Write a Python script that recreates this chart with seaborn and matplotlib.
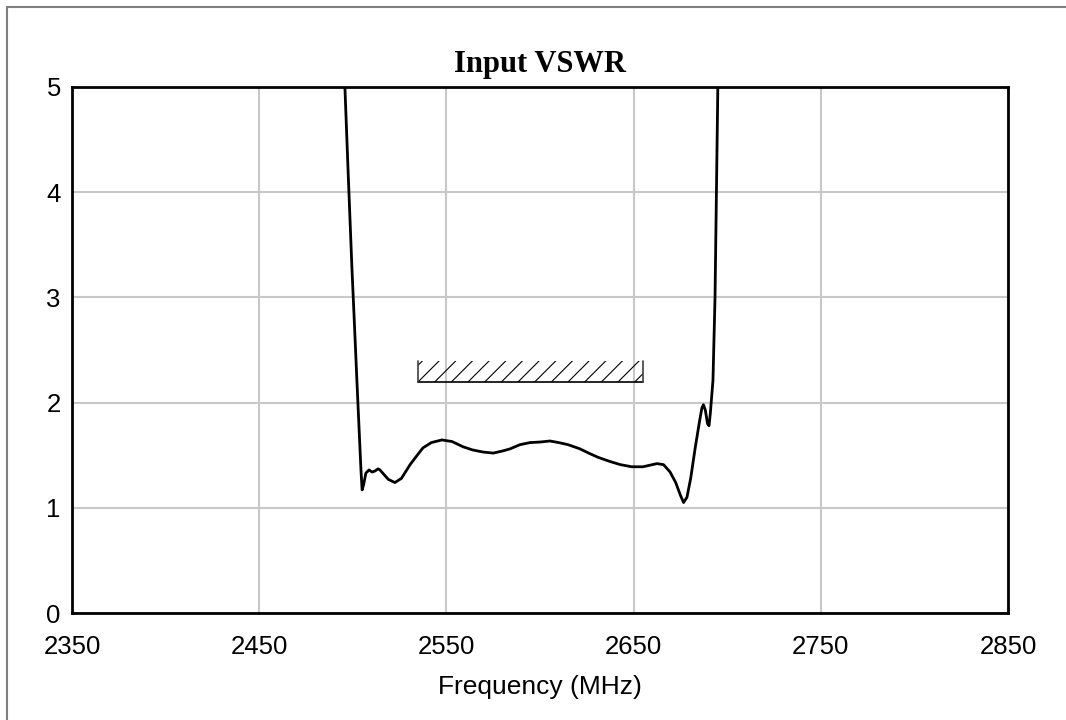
import numpy as np
import pandas as pd
import seaborn as sns
import matplotlib.pyplot as plt
from matplotlib.lines import Line2D
from matplotlib.patches import Rectangle

# input VSWR trace
freq = [2495.8, 2497.5, 2499.5, 2501.0, 2502.2, 2503.5, 2504.4, 2505.0, 2505.8,
        2507.0, 2508.7, 2510.3, 2511.9, 2513.5, 2514.5, 2516.5, 2519.0, 2522.5,
        2526.0, 2530.6, 2534.0, 2537.5, 2542.0, 2547.6, 2553.0, 2558.9, 2564.0,
        2569.6, 2575.0, 2580.0, 2584.0, 2589.3, 2594.7, 2600.0, 2605.3, 2610.0,
        2615.0, 2621.4, 2626.0, 2631.0, 2637.4, 2643.0, 2649.0, 2655.0, 2660.0,
        2662.5, 2666.0, 2669.5, 2672.5, 2675.0, 2676.7, 2678.5, 2680.5, 2683.0,
        2685.2, 2686.5, 2687.3, 2688.3, 2689.5, 2690.3, 2691.0, 2692.4, 2693.5,
        2694.4, 2695.0]
vswr = [5.00, 4.20, 3.30, 2.70, 2.21, 1.70, 1.35, 1.17, 1.22,
        1.33, 1.36, 1.34, 1.35, 1.37, 1.36, 1.32, 1.27, 1.24,
        1.28, 1.41, 1.49, 1.57, 1.62, 1.645, 1.63, 1.58, 1.55,
        1.53, 1.52, 1.54, 1.56, 1.60, 1.62, 1.625, 1.635, 1.62,
        1.60, 1.56, 1.52, 1.48, 1.44, 1.41, 1.39, 1.39, 1.41,
        1.42, 1.41, 1.34, 1.24, 1.12, 1.05, 1.10, 1.28, 1.58,
        1.82, 1.95, 1.98, 1.93, 1.80, 1.78, 1.90, 2.21, 3.00,
        4.20, 5.00]

# spec limit box (hatched)
spec_freq = [2535, 2655]
spec_vswr = [2.2, 2.4]

x_ticks = [2350, 2450, 2550, 2650, 2750, 2850]
y_ticks = [0, 1, 2, 3, 4, 5]

df = pd.DataFrame({"Frequency": freq, "VSWR": vswr})

sns.set_style("white")
plt.rcParams['font.family'] = ['Liberation Sans', 'DejaVu Sans']
plt.rcParams['hatch.linewidth'] = 0.8
plt.rcParams['text.color'] = 'black'

fig = plt.figure(figsize=(10.66, 7.2), dpi=100)
ax = fig.add_axes([0.0675, 0.1486, 0.8781, 0.7306])

ax.grid(True, color='#c8c8c8', linewidth=1.5)
ax.set_axisbelow(True)

sns.lineplot(data=df, x="Frequency", y="VSWR", sort=False, color='black',
             linewidth=2, ax=ax)

# hatched spec region: bottom line + short end walls, no top edge
ax.add_patch(Rectangle((spec_freq[0], spec_vswr[0]), spec_freq[1] - spec_freq[0],
                       spec_vswr[1] - spec_vswr[0], fill=False, hatch='//',
                       linewidth=0, edgecolor='black'))
ax.plot(spec_freq, [spec_vswr[0]] * 2, color='black', linewidth=1.2)
for f in spec_freq:
    ax.plot([f, f], spec_vswr, color='#404040', linewidth=1.2)

ax.set_xlim(x_ticks[0], x_ticks[-1])
ax.set_ylim(y_ticks[0], y_ticks[-1])
ax.set_xticks(x_ticks)
ax.set_yticks(y_ticks)
ax.tick_params(axis='x', length=0, labelsize=18.5, pad=16, colors='black')
ax.tick_params(axis='y', length=0, labelsize=18.5, pad=8, colors='black')
ax.set_xlabel("Frequency (MHz)", fontsize=19, labelpad=11, color='black')
ax.set_ylabel("")
ax.set_title("Input VSWR", fontsize=22, fontweight='bold', color='black',
             family=['Liberation Serif', 'DejaVu Serif'], pad=11)
for s in ax.spines.values():
    s.set_visible(True)
    s.set_color('black')
    s.set_linewidth(2)

# grey frame along the top and left of the figure
fig.add_artist(Line2D([0.0066, 1.0], [0.9903, 0.9903], color='#808080', linewidth=1.5))
fig.add_artist(Line2D([0.0066, 0.0066], [0.0, 0.9903], color='#808080', linewidth=1.5))

fig.savefig("out.png", dpi=100)
